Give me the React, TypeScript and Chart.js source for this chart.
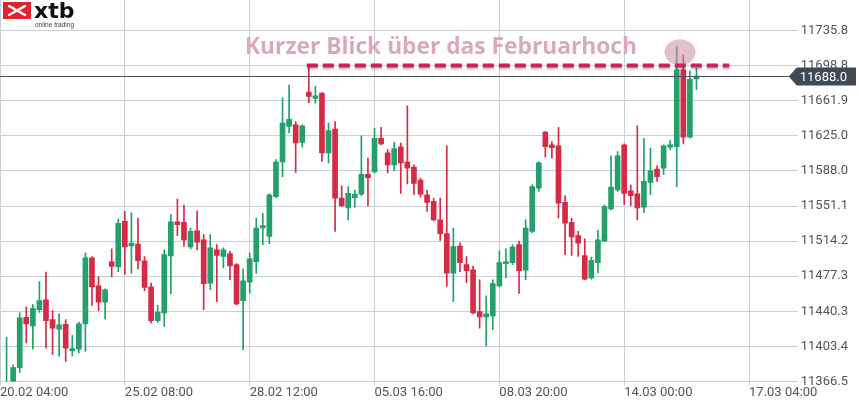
import React, { useEffect, useRef } from 'react';
import { Chart, registerables } from 'chart.js';

Chart.register(...registerables);

// 4h candles, DE30 (index 0 = 20.02 04:00)
const opens = [
  11352, 11358, 11381, 11434, 11425, 11442, 11452.5, 11431.5, 11421.5, 11426.5,
  11398.5, 11400.5, 11427, 11496.5, 11467, 11450, 11492.5, 11487, 11535, 11509,
  11511, 11493.5, 11466, 11430.5, 11438.5, 11498.5, 11534.5, 11534, 11508, 11525,
  11515.5, 11470, 11505, 11498, 11501, 11489.5, 11451.5, 11471, 11492.5, 11528,
  11519, 11561, 11597.5, 11635, 11636.5, 11618, 11671, 11664.5, 11670, 11607,
  11632, 11559.5, 11549, 11560, 11563.5, 11584.5, 11587, 11622.5, 11607, 11594.5,
  11613.5, 11597.5, 11592, 11578.5, 11563, 11556, 11536.5, 11522, 11480.5, 11509,
  11489.5, 11484, 11440, 11434.5, 11435.5, 11467, 11490.5, 11491.5, 11510.5, 11483.5,
  11524.5, 11570, 11629, 11615.5, 11614.5, 11555, 11534, 11520, 11499, 11475.5,
  11491.5, 11514, 11548, 11568, 11615.5, 11567, 11564, 11550, 11576, 11590,
  11591, 11613, 11613.5, 11694.5, 11623.5, 11685,
];
const highs = [
  11413, 11384, 11439, 11445, 11447.5, 11471.5, 11481.5, 11441, 11437.5, 11431.5,
  11415, 11429, 11501.5, 11498, 11476.5, 11464, 11506, 11537.5, 11545.5, 11544,
  11538.5, 11498, 11470, 11446.5, 11505, 11542, 11558.5, 11552, 11528, 11546,
  11521, 11521, 11510.5, 11507, 11503.5, 11490.5, 11485, 11501.5, 11538.5, 11543.5,
  11564, 11600, 11665, 11678.5, 11640, 11636.5, 11699, 11677, 11670.5, 11638.5,
  11640, 11572.5, 11571.5, 11568, 11625, 11601.5, 11633, 11634, 11610.5, 11618.5,
  11617.5, 11656.5, 11594.5, 11580.5, 11568, 11559.5, 11559.5, 11614.5, 11528, 11512.5,
  11498, 11488, 11473.5, 11456.5, 11473.5, 11504, 11506, 11510.5, 11514, 11536.5,
  11573.5, 11598, 11629.5, 11619, 11634, 11562, 11538.5, 11524.5, 11516.5, 11497.5,
  11525.5, 11552.5, 11604, 11608.5, 11616.5, 11573.5, 11635.5, 11622.5, 11612, 11593.5,
  11615.5, 11620, 11719, 11710, 11693.5, 11696,
];
const lows = [
  11340, 11350, 11376, 11407, 11400.5, 11439, 11401.5, 11395, 11393, 11387.5,
  11393, 11396.5, 11398, 11446.5, 11441, 11432, 11476.5, 11482, 11479, 11480.5,
  11485, 11462, 11428, 11428.5, 11424.5, 11458.5, 11520, 11508.5, 11506, 11505,
  11442, 11463, 11450.5, 11486, 11473.5, 11447, 11400, 11459.5, 11480.5, 11510.5,
  11511.5, 11560, 11582, 11628, 11586.5, 11613, 11660, 11659.5, 11598, 11596.5,
  11524.5, 11550.5, 11536.5, 11550, 11562, 11551.5, 11586, 11615.5, 11586, 11588,
  11564.5, 11574.5, 11563, 11560.5, 11545.5, 11535.5, 11515, 11466.5, 11450.5, 11482,
  11470.5, 11437.5, 11422.5, 11403.5, 11421, 11466, 11475.5, 11489.5, 11459, 11473.5,
  11523, 11566.5, 11602.5, 11601.5, 11538.5, 11500, 11499, 11498, 11473.5, 11474,
  11481, 11513.5, 11547, 11566.5, 11552.5, 11551.5, 11536.5, 11544.5, 11563, 11577,
  11584, 11610.5, 11571.5, 11616.5, 11622.5, 11673.5,
];
const closes = [
  11362, 11381, 11433.5, 11427, 11443.5, 11451.5, 11430.5, 11422.5, 11426, 11401.5,
  11401, 11427, 11496.5, 11466, 11450, 11463, 11487.5, 11533, 11508, 11512,
  11493.5, 11465.5, 11430.5, 11439.5, 11500, 11534.5, 11531.5, 11515.5, 11524.5, 11513,
  11469.5, 11507, 11499, 11505, 11488, 11448, 11472.5, 11495.5, 11528, 11530.5,
  11563, 11597.5, 11638.5, 11642.5, 11617.5, 11635.5, 11666.5, 11667, 11607, 11630.5,
  11559.5, 11551.5, 11564.5, 11563.5, 11584.5, 11581, 11622.5, 11616.5, 11594.5, 11611.5,
  11596.5, 11591, 11575, 11563.5, 11555, 11536.5, 11522, 11480.5, 11508.5, 11491.5,
  11483, 11438.5, 11434.5, 11437.5, 11469.5, 11491.5, 11492.5, 11508, 11483, 11528,
  11571.5, 11596.5, 11613.5, 11612.5, 11554, 11533, 11518.5, 11512, 11474, 11494,
  11515.5, 11550.5, 11571, 11604, 11564.5, 11562, 11549, 11577, 11588.5, 11582,
  11614.5, 11615.5, 11694.5, 11623.5, 11684.5, 11688,
];

const xTickIndex = [0, 19, 38, 57, 76, 95, 114];
const xTickLabels = ['20.02 04:00', '25.02 08:00', '28.02 12:00', '05.03 16:00', '08.03 20:00', '14.03 00:00', '17.03 04:00'];
const yTickValues = [11366.5, 11403.4, 11440.3, 11477.3, 11514.2, 11551.1, 11588.0, 11625.0, 11661.9, 11698.8, 11735.8];

const currentPrice = 11688.0;
const febHigh = 11699;
const febLineFrom = 47;
const febLineTo = 111;
const circleAt = 103.5;
const circleValue = 11713;
const noteText = 'Kurzer Blick über das Februarhoch';

const UP = '#23a06b';
const DOWN = '#d52b45';
const GRID = '#c9d0d8';

const overlay = {
  id: 'overlay',
  afterDraw(chart: any) {
    const { ctx, chartArea } = chart;
    const x = chart.scales.x;
    const y = chart.scales.y;
    ctx.save();

    // pink circle on the new high
    ctx.fillStyle = 'rgba(205,140,168,0.55)';
    ctx.beginPath();
    ctx.ellipse(x.getPixelForValue(circleAt), y.getPixelForValue(circleValue), 15.5, 13, 0, 0, Math.PI * 2);
    ctx.fill();

    // dashed line for the February high
    ctx.save();
    ctx.shadowColor = 'rgba(0,0,0,0.25)';
    ctx.shadowOffsetY = 2;
    ctx.shadowBlur = 2;
    ctx.strokeStyle = '#c8245c';
    ctx.lineWidth = 4;
    ctx.setLineDash([11, 5]);
    const fy = y.getPixelForValue(febHigh);
    ctx.beginPath();
    ctx.moveTo(x.getPixelForValue(febLineFrom) - 2, fy);
    ctx.lineTo(x.getPixelForValue(febLineTo), fy);
    ctx.stroke();
    ctx.restore();

    // annotation text
    ctx.save();
    ctx.font = 'bold 23px "Open Sans"';
    const w = ctx.measureText(noteText).width;
    ctx.translate(245, 54);
    ctx.scale(392 / w, 1);
    ctx.fillStyle = '#d9a9c1';
    ctx.textBaseline = 'alphabetic';
    ctx.textAlign = 'left';
    ctx.fillText(noteText, 0, 0);
    ctx.restore();

    // current price line and badge
    const py = Math.round(y.getPixelForValue(currentPrice)) + 0.5;
    ctx.strokeStyle = '#4a525b';
    ctx.lineWidth = 1;
    ctx.beginPath();
    ctx.moveTo(chartArea.left, py);
    ctx.lineTo(chartArea.right, py);
    ctx.stroke();
    const tip = chartArea.right - 3;
    ctx.fillStyle = '#3f4a55';
    ctx.beginPath();
    ctx.moveTo(tip, py);
    ctx.lineTo(tip + 8, py - 9);
    ctx.lineTo(chart.width - 3, py - 9);
    ctx.lineTo(chart.width - 3, py + 9);
    ctx.lineTo(tip + 8, py + 9);
    ctx.closePath();
    ctx.fill();
    ctx.fillStyle = '#ffffff';
    ctx.font = '13px Roboto';
    ctx.textBaseline = 'middle';
    ctx.textAlign = 'left';
    ctx.fillText(currentPrice.toFixed(1), tip + 11, py + 1);

    // logo
    ctx.fillStyle = '#e3232c';
    ctx.fillRect(3, 2, 28, 17);
    ctx.strokeStyle = '#ffffff';
    ctx.lineWidth = 2.5;
    ctx.lineCap = 'round';
    ctx.beginPath();
    ctx.moveTo(9, 6);
    ctx.lineTo(17, 10.5);
    ctx.lineTo(9, 15);
    ctx.moveTo(25, 6);
    ctx.lineTo(17, 10.5);
    ctx.lineTo(25, 15);
    ctx.stroke();
    ctx.fillStyle = '#111111';
    ctx.font = 'bold 22px "DejaVu Sans"';
    ctx.textBaseline = 'alphabetic';
    ctx.fillText('xtb', 34, 18);
    ctx.fillStyle = '#444444';
    ctx.font = '6.5px "Liberation Sans"';
    ctx.fillText('online trading', 35, 27);

    ctx.restore();
  },
};

export default function App() {
  const ref = useRef<HTMLCanvasElement>(null);
  useEffect(() => {
    document.body.style.margin = '0';
    const idx = opens.map((_, i) => i + 1);
    const colors = opens.map((o, i) => (closes[i] >= o ? UP : DOWN));
    const chart = new Chart(ref.current as HTMLCanvasElement, {
      type: 'bar',
      data: {
        datasets: [
          {
            label: 'wicks',
            data: idx.map((xv, i) => ({ x: xv, y: [lows[i], highs[i]] })) as any,
            backgroundColor: colors,
            barThickness: 1,
            grouped: false,
            borderWidth: 0,
            order: 2,
          } as any,
          {
            label: 'bodies',
            data: idx.map((xv, i) => ({ x: xv, y: [opens[i], closes[i]] })) as any,
            backgroundColor: colors,
            barThickness: 5,
            minBarLength: 2,
            grouped: false,
            borderWidth: 0,
            order: 1,
          } as any,
        ],
      },
      options: {
        responsive: false,
        animation: false,
        devicePixelRatio: 1,
        layout: { padding: { left: 0, right: 8, top: 0, bottom: 0 } },
        plugins: { legend: { display: false }, tooltip: { enabled: false } },
        scales: {
          x: {
            type: 'linear',
            min: 0,
            max: 120.5,
            offset: false,
            grid: { color: GRID, tickLength: 4, offset: false },
            border: { display: false },
            afterBuildTicks: (s: any) => {
              s.ticks = xTickIndex.map((v) => ({ value: v }));
            },
            afterFit: (s: any) => {
              s.paddingLeft = 0;
              s.paddingRight = 0;
            },
            ticks: {
              autoSkip: false,
              maxRotation: 0,
              align: 'start',
              padding: 0,
              color: '#555555',
              font: { family: 'Roboto', size: 13 },
              callback: (_v: any, i: number) => xTickLabels[i],
            },
          } as any,
          y: {
            position: 'right',
            min: 11366.5,
            max: 11768,
            grid: { color: GRID, tickLength: 6 },
            border: { display: false },
            afterBuildTicks: (s: any) => {
              s.ticks = yTickValues.map((v) => ({ value: v }));
            },
            afterFit: (s: any) => {
              s.paddingTop = 0;
              s.paddingBottom = 0;
            },
            ticks: {
              padding: 3,
              color: '#555555',
              font: { family: 'Roboto', size: 13 },
              callback: (v: any) => Number(v).toFixed(1),
            },
          } as any,
        },
      },
      plugins: [overlay],
    });
    return () => chart.destroy();
  }, []);
  return (
    <div style={{ position: 'fixed', left: 0, top: 0, width: 859, height: 401, background: '#fff' }}>
      <canvas ref={ref} width={859} height={401} />
    </div>
  );
}
